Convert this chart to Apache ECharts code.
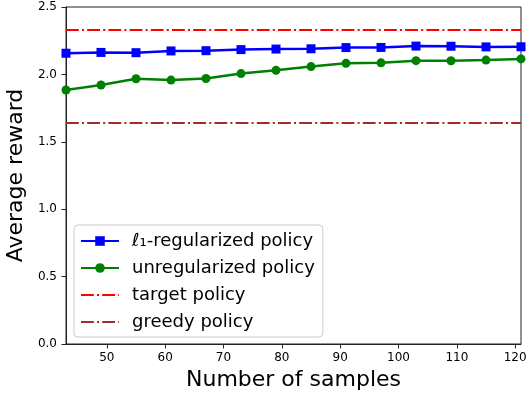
<!DOCTYPE html>
<html>
<head>
<meta charset="utf-8">
<script src="https://cdn.jsdelivr.net/npm/echarts@6/dist/echarts.min.js"></script>
<style>html,body{margin:0;padding:0;background:#fff}#c{width:528px;height:393px}</style>
</head>
<body>
<div id="c"></div>
<script>
const samples = [43, 49, 55, 61, 67, 73, 79, 85, 91, 97, 103, 109, 115, 121];
const l1Policy = [2.157, 2.163, 2.161, 2.174, 2.176, 2.184, 2.188, 2.190, 2.199, 2.200, 2.210, 2.209, 2.204, 2.205];
const unregPolicy = [1.884, 1.921, 1.968, 1.958, 1.970, 2.006, 2.030, 2.058, 2.082, 2.086, 2.102, 2.101, 2.106, 2.115];
const targetValue = 2.33;
const greedyValue = 1.64;
const xTicks = [50, 60, 70, 80, 90, 100, 110, 120];
const yTicks = [0.0, 0.5, 1.0, 1.5, 2.0, 2.5];
const seriesNames = ['ℓ1-regularized policy', 'unregularized policy', 'target policy', 'greedy policy'];

const FONT = 'DejaVu Sans';
const xMin = samples[0], xMax = samples[samples.length - 1];
const chart = echarts.init(document.getElementById('c'), null, {renderer: 'canvas'});
const dashDot = [12.8, 3.2, 2, 3.2];

chart.setOption({
  animation: false,
  backgroundColor: '#fff',
  grid: {left: 66, right: 7, top: 7, bottom: 49, show: true, borderColor: '#222', borderWidth: 1,
    backgroundColor: 'transparent', containLabel: false, outerBoundsMode: 'none'},
  xAxis: {
    type: 'value', min: xMin, max: xMax,
    name: 'Number of samples', nameLocation: 'middle', nameGap: 25,
    nameTextStyle: {fontFamily: FONT, fontSize: 22, color: '#000'},
    axisLine: {show: true, lineStyle: {color: '#222', width: 1}},
    axisTick: {show: true, inside: false, length: 4.5, lineStyle: {color: '#222'}, customValues: xTicks},
    axisLabel: {fontFamily: FONT, fontSize: 12, color: '#000', margin: 8, customValues: xTicks},
    splitLine: {show: false}
  },
  yAxis: {
    type: 'value', min: yTicks[0], max: yTicks[yTicks.length - 1], interval: 0.5,
    name: 'Average reward', nameLocation: 'middle', nameGap: 36,
    nameTextStyle: {fontFamily: FONT, fontSize: 22, color: '#000'},
    axisLine: {show: true, lineStyle: {color: '#222', width: 1}},
    axisTick: {show: true, inside: false, length: 4.5, lineStyle: {color: '#222'}},
    axisLabel: {fontFamily: FONT, fontSize: 12, color: '#000', margin: 9, formatter: v => v.toFixed(1)},
    splitLine: {show: false}
  },
  legend: {
    orient: 'vertical', left: 74, top: 225,
    padding: [7, 8, 6, 6], itemGap: 9, itemWidth: 38, itemHeight: 12,
    borderColor: '#cccccc', borderWidth: 1, borderRadius: 4,
    backgroundColor: 'rgba(255,255,255,0.8)',
    data: [
      {name: seriesNames[0]},
      {name: seriesNames[1]},
      {name: seriesNames[2], itemStyle: {opacity: 0}},
      {name: seriesNames[3], itemStyle: {opacity: 0}}
    ],
    formatter: function (n) {
      if (n === seriesNames[0]) return '{i|ℓ}₁-regularized policy';
      return n;
    },
    textStyle: {fontFamily: FONT, fontSize: 18, color: '#000', lineHeight: 18, padding: [0, 0, 0, 8],
      rich: {i: {fontFamily: FONT, fontSize: 18, fontStyle: 'italic', color: '#000'}}}
  },
  series: [
    {
      name: seriesNames[0], type: 'line', data: samples.map((x, i) => [x, l1Policy[i]]),
      symbol: 'rect', symbolSize: 9, showAllSymbol: true, clip: true,
      lineStyle: {color: '#0000ff', width: 2.5}, itemStyle: {color: '#0000ff'}, z: 4
    },
    {
      name: seriesNames[1], type: 'line', data: samples.map((x, i) => [x, unregPolicy[i]]),
      symbol: 'circle', symbolSize: 9, showAllSymbol: true, clip: true,
      lineStyle: {color: '#008000', width: 2.5}, itemStyle: {color: '#008000'}, z: 4
    },
    {
      name: seriesNames[2], type: 'line', data: [[xMin, targetValue], [xMax, targetValue]],
      symbol: 'none', lineStyle: {color: '#ff0000', width: 2, type: dashDot}, itemStyle: {color: '#ff0000'}, z: 3
    },
    {
      name: seriesNames[3], type: 'line', data: [[xMin, greedyValue], [xMax, greedyValue]],
      symbol: 'none', lineStyle: {color: '#a52a2a', width: 2, type: dashDot}, itemStyle: {color: '#a52a2a'}, z: 3
    }
  ]
});
</script>
</body>
</html>
